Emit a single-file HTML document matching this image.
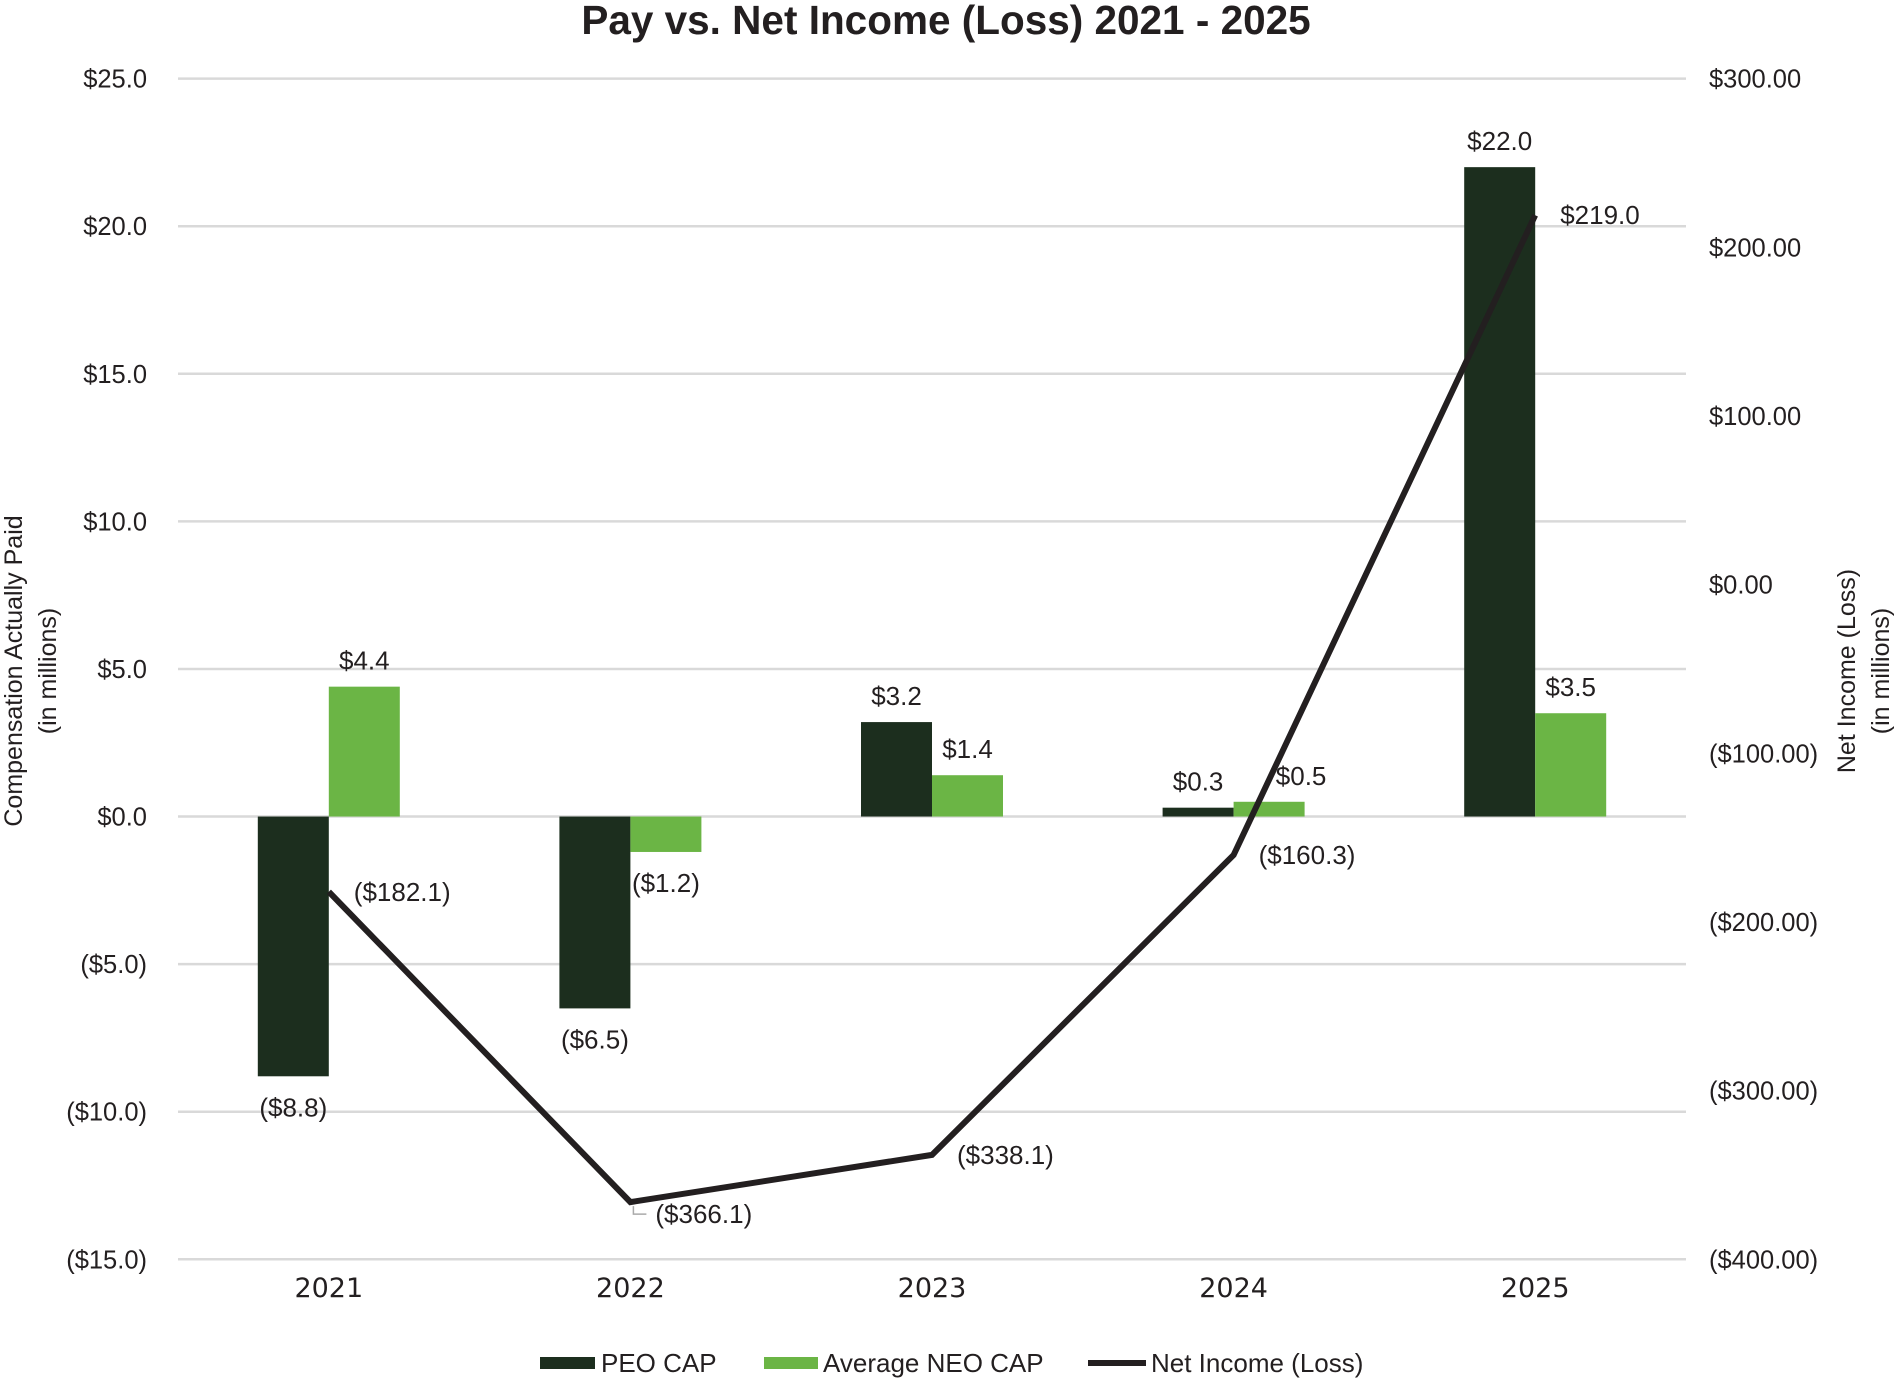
<!DOCTYPE html>
<html><head><meta charset="utf-8">
<style>
html,body{margin:0;padding:0;background:#fff;}
svg{display:block;font-family:"Liberation Sans",Arial,sans-serif;}
</style></head>
<body>
<svg id="chart" width="1895" height="1378" viewBox="0 0 1895 1378" xmlns="http://www.w3.org/2000/svg">
<text x="946" y="34" text-anchor="middle" font-size="40.5" font-weight="bold" fill="#231f20">Pay vs. Net Income (Loss) 2021 - 2025</text>
<g id="grid"></g>
<g id="leftAxis"></g>
<g id="rightAxis"></g>
<g id="bars"></g>
<g id="line"></g>
<g id="labels"></g>
<g id="xAxis"></g>
<text transform="translate(22,671) rotate(-90)" text-anchor="middle" font-size="25" fill="#231f20">Compensation Actually Paid</text>
<text transform="translate(56,671) rotate(-90)" text-anchor="middle" font-size="25" fill="#231f20">(in millions)</text>
<text transform="translate(1855,671) rotate(-90)" text-anchor="middle" font-size="25" fill="#231f20">Net Income (Loss)</text>
<text transform="translate(1889,671) rotate(-90)" text-anchor="middle" font-size="25" fill="#231f20">(in millions)</text>
<g>
  <g>
    <rect x="540" y="1357" width="55" height="12" fill="#1c2e1e"/>
    <text x="601" y="1372" font-size="26" fill="#231f20">PEO CAP</text>
  </g>
  <g>
    <rect x="764" y="1357" width="54" height="12" fill="#6bb545"/>
    <text x="823" y="1372" font-size="26" fill="#231f20">Average NEO CAP</text>
  </g>
  <g>
    <line x1="1088" y1="1363" x2="1146" y2="1363" stroke="#231f20" stroke-width="6"/>
    <text x="1151" y="1372" font-size="26" fill="#231f20">Net Income (Loss)</text>
  </g>
</g>
</svg>
<script>
const categories = ["2021","2022","2023","2024","2025"];
const peoCap = [-8.8, -6.5, 3.2, 0.3, 22.0];
const neoCap = [4.4, -1.2, 1.4, 0.5, 3.5];
const netIncome = [-182.1, -366.1, -338.1, -160.3, 219.0];
const leftTicks = [25, 20, 15, 10, 5, 0, -5, -10, -15];
const rightTicks = [300, 200, 100, 0, -100, -200, -300, -400];

const NS = "http://www.w3.org/2000/svg";
const plotL = 178, plotR = 1686, plotT = 78.6, plotB = 1259.3;
const lMin = -15, lMax = 25, rMin = -400, rMax = 300;
const yL = v => plotT + (lMax - v) / (lMax - lMin) * (plotB - plotT);
const yR = v => plotT + (rMax - v) / (rMax - rMin) * (plotB - plotT);
const band = (plotR - plotL) / categories.length;
const xC = i => plotL + band * (i + 0.5);
const barW = 71;
function mk(tag, attrs, parent, txt){
  const e = document.createElementNS(NS, tag);
  for (const k in attrs) e.setAttribute(k, attrs[k]);
  if (txt !== undefined) e.textContent = txt;
  parent.appendChild(e); return e;
}
const fmtL = v => v < 0 ? "($" + Math.abs(v).toFixed(1) + ")" : "$" + v.toFixed(1);
const fmtR = v => v < 0 ? "($" + Math.abs(v).toFixed(2) + ")" : "$" + v.toFixed(2);
const grid = document.getElementById("grid"), la = document.getElementById("leftAxis"),
  ra = document.getElementById("rightAxis"), bars = document.getElementById("bars"),
  lineG = document.getElementById("line"), labels = document.getElementById("labels"),
  xa = document.getElementById("xAxis");

leftTicks.forEach(t => {
  const g = mk("line", {x1: plotL, x2: plotR, y1: yL(t), y2: yL(t), stroke: "#d9d9d9", "stroke-width": 2.5}, grid);
  
  
  const tx = mk("text", {x: 147, y: yL(t) + 9, "text-anchor": "end", "font-size": 25.5, fill: "#231f20"}, la, fmtL(t));
  
  
});
rightTicks.forEach(t => {
  const tx = mk("text", {x: 1709, y: yR(t) + 9, "font-size": 25.5, fill: "#231f20"}, ra, fmtR(t));
  
  
});
categories.forEach((c, i) => {
  const tx = mk("text", {x: xC(i), y: 1297, "text-anchor": "middle", "font-size": 27, fill: "#231f20", "font-family": "DejaVu Sans, sans-serif", "font-size-adjust": "0.48"}, xa, c);
  
  
  const p = peoCap[i], y0 = yL(0), yp = yL(p);
  const b1 = mk("rect", {x: xC(i) - barW, y: Math.min(y0, yp), width: barW, height: Math.abs(yp - y0), fill: "#1c2e1e"}, bars);
  
  
  const n = neoCap[i], yn = yL(n);
  const b2 = mk("rect", {x: xC(i), y: Math.min(y0, yn), width: barW, height: Math.abs(yn - y0), fill: "#6bb545"}, bars);
  
  
  const l1 = mk("text", {x: xC(i) - barW / 2, y: p >= 0 ? yp - 17 : yp + 40, "text-anchor": "middle", "font-size": 26, fill: "#231f20"}, labels, fmtL(p));
  
  
  const l2 = mk("text", {x: xC(i) + barW / 2 + (i === 3 ? 32 : 0), y: n >= 0 ? yn - 17 : yn + 40, "text-anchor": "middle", "font-size": 26, fill: "#231f20"}, labels, fmtL(n));
  
  
  const l3 = mk("text", {x: xC(i) + 25, y: yR(netIncome[i]) + (i === 1 ? 21 : 9), "font-size": 26, fill: "#231f20"}, labels, fmtL(netIncome[i]));
  
  
});
const pts = netIncome.map((v, i) => xC(i) + "," + yR(v)).join(" ");
const pl = mk("polyline", {points: pts, fill: "none", stroke: "#231f20", "stroke-width": 6, "stroke-linejoin": "miter"}, lineG);


const ld = mk("polyline", {points: (xC(1) + 3) + "," + (yR(netIncome[1]) + 4) + " " + (xC(1) + 3) + "," + (yR(netIncome[1]) + 12) + " " + (xC(1) + 16) + "," + (yR(netIncome[1]) + 12), fill: "none", stroke: "#aaa", "stroke-width": 1.5}, lineG);


</script>
</body></html>
